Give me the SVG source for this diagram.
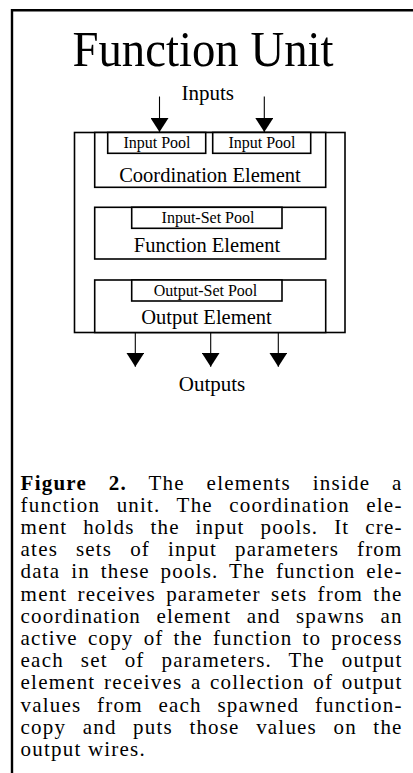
<svg xmlns="http://www.w3.org/2000/svg" width="413" height="773" viewBox="0 0 413 773">
  <style>
    .frame { stroke: #000; stroke-width: 2.4; fill: none; }
    .box { fill: #fff; stroke: #000; stroke-width: 1.6; }
    .wire { stroke: #000; stroke-width: 1.1; fill: none; }
    .t { font-family: "Liberation Serif", "Times New Roman", serif; fill: #000; text-anchor: middle; }
    .title { font-size: 50px; }
    .lbl { font-size: 20.5px; }
    .io { font-size: 21px; }
    .pool { font-size: 16px; }
    .cap { font-family: "Liberation Serif", "Times New Roman", serif; font-size: 21px; fill: #000; letter-spacing: 1.2px; }
    .b { font-weight: bold; }
  </style>
  <defs>
    <marker id="head" viewBox="0 0 14 18" markerWidth="14" markerHeight="18" refX="14" refY="9" orient="auto" markerUnits="userSpaceOnUse">
      <path d="M0,0 L14,9 L0,18 z" fill="#000"/>
    </marker>
  </defs>

  <rect width="413" height="773" fill="#fff"/>
  <!-- page frame: top and left rules -->
  <path class="frame" d="M12,773 V10.3 H413"/>

  <g id="title">
    <text class="t title" x="203" y="66" textLength="261" lengthAdjust="spacingAndGlyphs">Function Unit</text>
  </g>

  <g id="function-unit">
    <rect class="box" x="74.5" y="132.5" width="270.5" height="200"/>
  </g>

  <g id="coordination-element">
    <rect class="box" x="94.7" y="132.5" width="231" height="54.8"/>
    <text class="t lbl" x="210" y="181.5">Coordination Element</text>
  </g>
  <g id="input-pool-1">
    <rect class="box" x="107.7" y="132.5" width="98" height="20.8"/>
    <text class="t pool" x="157" y="148">Input Pool</text>
  </g>
  <g id="input-pool-2">
    <rect class="box" x="212.7" y="132.5" width="98" height="20.8"/>
    <text class="t pool" x="262" y="148">Input Pool</text>
  </g>

  <g id="function-element">
    <rect class="box" x="94.7" y="207.3" width="231" height="51.7"/>
    <text class="t lbl" x="207" y="251.5">Function Element</text>
  </g>
  <g id="input-set-pool">
    <rect class="box" x="131.7" y="207.3" width="150.3" height="21"/>
    <text class="t pool" x="208" y="223">Input-Set Pool</text>
  </g>

  <g id="output-element">
    <rect class="box" x="94.7" y="280" width="231" height="52.5"/>
    <text class="t lbl" x="206.5" y="323.5">Output Element</text>
  </g>
  <g id="output-set-pool">
    <rect class="box" x="131.7" y="280" width="150.3" height="21"/>
    <text class="t pool" x="205.5" y="295.5">Output-Set Pool</text>
  </g>

  <g id="inputs-label">
    <text class="t io" x="207.7" y="100">Inputs</text>
  </g>
  <g id="outputs-label">
    <text class="t io" x="212" y="391">Outputs</text>
  </g>

  <g id="connectors">
    <line class="wire" x1="159.5" y1="96.5" x2="159.5" y2="132" marker-end="url(#head)"/>
    <line class="wire" x1="264.3" y1="96.5" x2="264.3" y2="132" marker-end="url(#head)"/>
    <line class="wire" x1="135.3" y1="332.5" x2="135.3" y2="366.7" marker-end="url(#head)"/>
    <line class="wire" x1="210.7" y1="332.5" x2="210.7" y2="366.7" marker-end="url(#head)"/>
    <line class="wire" x1="278.3" y1="332.5" x2="278.3" y2="366.7" marker-end="url(#head)"/>
  </g>

  <g id="caption">
    <text class="cap" x="20.6" y="489.5" textLength="382" lengthAdjust="spacing" word-spacing="15.4"><tspan class="b">Figure 2.</tspan> The elements inside a</text>
    <text class="cap" x="20.6" y="511.7" textLength="382" lengthAdjust="spacing" word-spacing="10">function unit. The coordination ele-</text>
    <text class="cap" x="20.6" y="533.9" textLength="382" lengthAdjust="spacing" word-spacing="9.4">ment holds the input pools. It cre-</text>
    <text class="cap" x="20.6" y="556.1" textLength="382" lengthAdjust="spacing" word-spacing="11.5">ates sets of input parameters from</text>
    <text class="cap" x="20.6" y="578.3" textLength="382" lengthAdjust="spacing" word-spacing="4.3">data in these pools. The function ele-</text>
    <text class="cap" x="20.6" y="600.5" textLength="382" lengthAdjust="spacing" word-spacing="3.8">ment receives parameter sets from the</text>
    <text class="cap" x="20.6" y="622.7" textLength="382" lengthAdjust="spacing" word-spacing="9">coordination element and spawns an</text>
    <text class="cap" x="20.6" y="644.9" textLength="382" lengthAdjust="spacing" word-spacing="3.65">active copy of the function to process</text>
    <text class="cap" x="20.6" y="667.1" textLength="382" lengthAdjust="spacing" word-spacing="10.5">each set of parameters. The output</text>
    <text class="cap" x="20.6" y="689.3" textLength="382" lengthAdjust="spacing" word-spacing="2.2">element receives a collection of output</text>
    <text class="cap" x="20.6" y="711.5" textLength="382" lengthAdjust="spacing" word-spacing="9.3">values from each spawned function-</text>
    <text class="cap" x="20.6" y="733.7" textLength="382" lengthAdjust="spacing" word-spacing="10.1">copy and puts those values on the</text>
    <text class="cap" x="20.6" y="755.9">output wires.</text>
  </g>
</svg>
